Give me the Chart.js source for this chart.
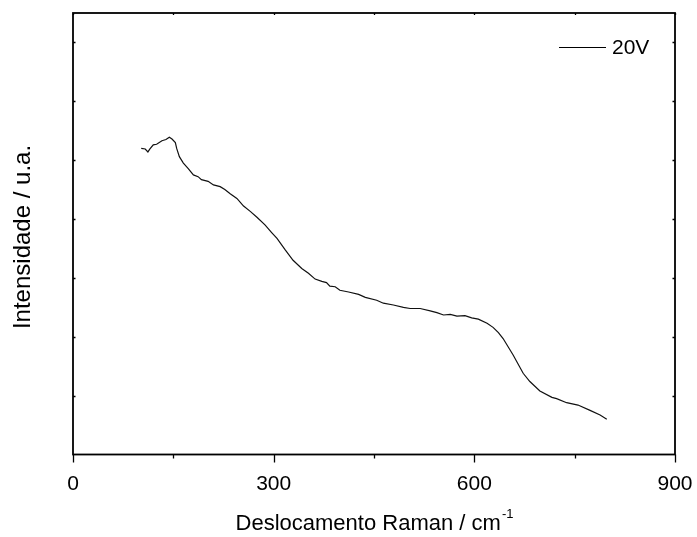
<!DOCTYPE html>
<html>
<head>
<meta charset="utf-8">
<script src="https://cdn.jsdelivr.net/npm/chart.js@4.4.1/dist/chart.umd.min.js"></script>
<style>
  html, body { margin: 0; padding: 0; background: #ffffff; }
  #wrap { position: relative; width: 697px; height: 537px; }
</style>
</head>
<body>
<div id="wrap"><canvas id="c" width="697" height="537"></canvas></div>
<script>
// Raman spectrum, sample anodised at 20 V
const seriesLabel = '20V';
const ramanShift = [
  102, 108, 112, 115, 120, 125, 133, 139, 144, 148,
  153, 155, 159, 165, 172, 180, 187, 192, 202, 210,
  220, 227, 235, 245, 255, 265, 275, 287, 297, 305,
  317, 329, 342, 352, 362, 372, 379, 384, 392, 399,
  412, 427, 437, 454, 464, 479, 494, 504, 519, 534,
  544, 554, 564, 574, 586, 596, 606, 619, 628, 636,
  643, 658, 673, 683, 698, 716, 723, 738, 755, 773,
  788, 798
];
const intensity = [
  5.20, 5.19, 5.14, 5.19, 5.26, 5.27, 5.33, 5.35, 5.39, 5.36,
  5.30, 5.20, 5.06, 4.95, 4.86, 4.75, 4.72, 4.67, 4.64, 4.58,
  4.55, 4.50, 4.43, 4.35, 4.22, 4.13, 4.03, 3.90, 3.77, 3.67,
  3.48, 3.30, 3.16, 3.08, 2.98, 2.94, 2.92, 2.86, 2.85, 2.79,
  2.76, 2.72, 2.67, 2.62, 2.57, 2.54, 2.50, 2.48, 2.48, 2.44,
  2.41, 2.37, 2.38, 2.35, 2.36, 2.32, 2.30, 2.23, 2.16, 2.07,
  1.97, 1.69, 1.38, 1.24, 1.08, 0.97, 0.95, 0.88, 0.84, 0.75,
  0.67, 0.60
];
const xTickValues = [0, 300, 600, 900];
const xMinorValues = [150, 450, 750];
const yTickValues = [1, 2, 3, 4, 5, 6, 7];

const xTitle = 'Deslocamento Raman / cm';
const xTitleSup = '-1';
const yTitle = 'Intensidade / u.a.';

const FONT = 'Arial, "Liberation Sans", Helvetica, sans-serif';

// Box frame, tick marks, axis titles and legend
const framePlugin = {
  id: 'frame',
  afterDraw(chart) {
    const { ctx, chartArea: a, scales } = chart;
    const xs = scales.x, ys = scales.y;
    ctx.save();
    ctx.strokeStyle = '#000';
    ctx.lineWidth = 1.8;
    ctx.strokeRect(a.left, a.top, a.right - a.left, a.bottom - a.top);

    ctx.lineWidth = 1.3;
    ctx.beginPath();
    // major ticks on x: outward at bottom, small inward at top
    xTickValues.forEach(v => {
      const px = Math.round(xs.getPixelForValue(v)) + 0.5;
      ctx.moveTo(px, a.bottom); ctx.lineTo(px, a.bottom + 8);
      ctx.moveTo(px, a.top); ctx.lineTo(px, a.top + 2);
    });
    xMinorValues.forEach(v => {
      const px = Math.round(xs.getPixelForValue(v)) + 0.5;
      ctx.moveTo(px, a.bottom); ctx.lineTo(px, a.bottom + 4);
      ctx.moveTo(px, a.top); ctx.lineTo(px, a.top + 2);
    });
    // small inward ticks on both vertical sides
    yTickValues.forEach(v => {
      const py = Math.round(ys.getPixelForValue(v)) + 0.5;
      ctx.moveTo(a.left, py); ctx.lineTo(a.left + 2.5, py);
      ctx.moveTo(a.right, py); ctx.lineTo(a.right - 2.5, py);
    });
    ctx.stroke();

    ctx.fillStyle = '#000';
    // x title with superscript
    ctx.font = '22px ' + FONT;
    ctx.textBaseline = 'alphabetic';
    const mainW = ctx.measureText(xTitle).width;
    ctx.font = '13px ' + FONT;
    const supW = ctx.measureText(xTitleSup).width;
    const cx = (a.left + a.right) / 2;
    const startX = cx - (mainW + supW) / 2;
    ctx.font = '22px ' + FONT;
    ctx.textAlign = 'left';
    ctx.fillText(xTitle, startX, 530);
    ctx.font = '13px ' + FONT;
    ctx.fillText(xTitleSup, startX + mainW + 1, 518);

    // y title
    ctx.save();
    ctx.translate(30, 237);
    ctx.rotate(-Math.PI / 2);
    ctx.font = '24px ' + FONT;
    ctx.textAlign = 'center';
    ctx.fillText(yTitle, 0, 0);
    ctx.restore();

    // legend
    ctx.lineWidth = 1.2;
    ctx.strokeStyle = '#000';
    ctx.beginPath();
    ctx.moveTo(559, 47.5); ctx.lineTo(606, 47.5);
    ctx.stroke();
    ctx.font = '21px ' + FONT;
    ctx.textAlign = 'left';
    ctx.textBaseline = 'middle';
    ctx.fillText(seriesLabel, 612, 48);
    ctx.restore();
  }
};

new Chart(document.getElementById('c'), {
  type: 'line',
  data: {
    datasets: [{
      label: seriesLabel,
      data: ramanShift.map((x, i) => ({ x, y: intensity[i] })),
      borderColor: '#111',
      borderWidth: 1.2,
      pointRadius: 0,
      tension: 0,
      fill: false
    }]
  },
  options: {
    responsive: false,
    animation: false,
    layout: { padding: { top: 13, right: 22, left: 0, bottom: 0 } },
    plugins: { legend: { display: false }, tooltip: { enabled: false } },
    scales: {
      x: {
        type: 'linear',
        min: 0, max: 900,
        afterFit(s) { s.height = 82.5; s.paddingLeft = 0; s.paddingRight = 0; },
        afterBuildTicks(s) { s.ticks = xTickValues.map(v => ({ value: v })); },
        grid: { display: false, drawTicks: false },
        border: { display: false },
        ticks: {
          color: '#000',
          font: { family: FONT, size: 21 },
          padding: 17,
          maxRotation: 0,
          autoSkip: false
        }
      },
      y: {
        type: 'linear',
        min: 0, max: 7.5,
        afterFit(s) { s.width = 73; s.paddingTop = 0; s.paddingBottom = 0; },
        grid: { display: false, drawTicks: false },
        border: { display: false },
        ticks: { display: false }
      }
    }
  },
  plugins: [framePlugin]
});
</script>
</body>
</html>
